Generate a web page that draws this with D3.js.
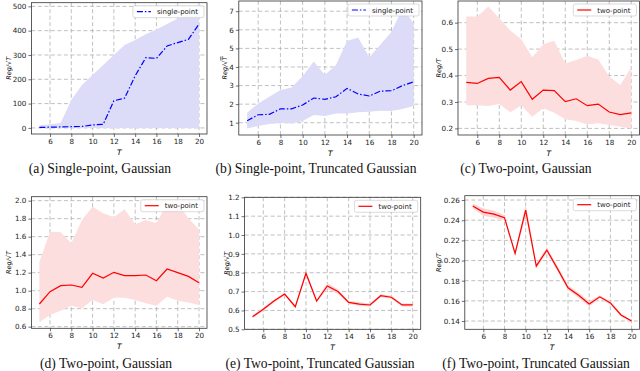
<!DOCTYPE html>
<html>
<head>
<meta charset="utf-8">
<script src="https://cdn.jsdelivr.net/npm/d3@7"></script>
<style>
  body { margin: 0; background: #fff; }
  svg { display: block; }
</style>
</head>
<body>
<script>
const T = [5, 6, 7, 8, 9, 10, 11, 12, 13, 14, 15, 16, 17, 18, 19, 20];
const xTicks = [6, 8, 10, 12, 14, 16, 18, 20];

// (a) single-point, Gaussian
const aMean  = [2, 3, 4, 5, 6, 12, 15, 112, 122, 214, 289, 286, 337, 351, 364, 427];
const aUpper = [10, 15, 20, 115, 177, 218, 259, 300, 341, 362, 385, 405, 427, 450, 470, 492];
const aLower = [0, 0, 0, 0, 0, 0, 0, 0, 0, 0, 0, 0, 0, 0, 0, 0];
const aTicks = [0, 100, 200, 300, 400, 500];

// (b) single-point, truncated Gaussian
const bMean  = [1.11, 1.43, 1.45, 1.75, 1.75, 1.95, 2.33, 2.26, 2.4, 2.85, 2.55, 2.44, 2.7, 2.72, 3.0, 3.2];
const bUpper = [1.54, 2.04, 2.4, 2.76, 2.9, 3.5, 4.29, 3.57, 4.1, 5.4, 5.58, 4.52, 5.19, 5.9, 7.16, 6.35];
const bLower = [0.69, 0.82, 0.93, 1.0, 0.96, 1.1, 1.41, 1.36, 1.5, 1.5, 1.56, 1.59, 1.65, 1.63, 1.74, 1.9];
const bTicks = [1, 2, 3, 4, 5, 6, 7];

// (c) two-point, Gaussian (Reg/T)
const cMean  = [0.374, 0.370, 0.389, 0.393, 0.345, 0.377, 0.310, 0.345, 0.343, 0.301, 0.312, 0.286, 0.292, 0.262, 0.252, 0.259];
const cUpper = [0.623, 0.623, 0.661, 0.617, 0.57, 0.537, 0.469, 0.518, 0.532, 0.446, 0.459, 0.475, 0.461, 0.396, 0.364, 0.43];
const cLower = [0.288, 0.288, 0.285, 0.292, 0.261, 0.288, 0.244, 0.276, 0.259, 0.235, 0.228, 0.215, 0.219, 0.213, 0.206, 0.2];
const cTicks = [0.2, 0.3, 0.4, 0.5, 0.6];

// (d) two-point, Gaussian (Reg/sqrt T)
const dMean  = [0.852, 0.989, 1.056, 1.063, 1.037, 1.193, 1.141, 1.204, 1.167, 1.167, 1.174, 1.111, 1.241, 1.2, 1.159, 1.089];
const dUpper = [1.32, 1.656, 1.648, 1.526, 1.785, 1.933, 1.859, 1.815, 1.904, 1.737, 1.785, 1.748, 1.97, 1.97, 1.804, 1.681];
const dLower = [0.648, 0.73, 0.778, 0.833, 0.804, 0.896, 0.848, 0.922, 0.922, 0.896, 0.859, 0.833, 0.933, 0.889, 0.87, 0.841];
const dTicks = [0.6, 0.8, 1.0, 1.2, 1.4, 1.6, 1.8, 2.0];

// (e) two-point, truncated Gaussian (Reg/sqrt T)
const eMean  = [0.567, 0.606, 0.65, 0.687, 0.62, 0.797, 0.65, 0.73, 0.70, 0.643, 0.634, 0.629, 0.678, 0.67, 0.629, 0.629];
const eUpper = [0.575, 0.614, 0.658, 0.694, 0.627, 0.812, 0.658, 0.745, 0.712, 0.652, 0.643, 0.637, 0.686, 0.678, 0.637, 0.637];
const eLower = [0.559, 0.598, 0.642, 0.68, 0.613, 0.782, 0.642, 0.715, 0.688, 0.634, 0.625, 0.621, 0.67, 0.662, 0.621, 0.621];
const eTicks = [0.5, 0.6, 0.7, 0.8, 0.9, 1.0, 1.1, 1.2];

// (f) two-point, truncated Gaussian (Reg/T)
const fMean  = [0.254, 0.248, 0.246, 0.2425, 0.207, 0.250, 0.1945, 0.2104, 0.192, 0.173, 0.1655, 0.157, 0.164, 0.158, 0.146, 0.140];
const fUpper = [0.2565, 0.2515, 0.2495, 0.245, 0.209, 0.2555, 0.197, 0.213, 0.1945, 0.1755, 0.168, 0.1595, 0.1655, 0.1595, 0.1475, 0.141];
const fLower = [0.2515, 0.2445, 0.2425, 0.240, 0.205, 0.2445, 0.192, 0.2078, 0.1895, 0.1705, 0.163, 0.1545, 0.1625, 0.1565, 0.1445, 0.139];
const fTicks = [0.14, 0.16, 0.18, 0.20, 0.22, 0.24, 0.26];

const panels = [
  {mean: aMean, upper: aUpper, lower: aLower, ticks: aTicks, fmt: d3.format("d"),
   ydom: [-25, 515], box: [31.4, 207, 2.7, 134], ylab: "sqrt", ylx: 6,
   series: "single-point", color: "blue", fill: "#dcdcf8", dash: "6,2,1.5,2",
   caption: "(a) Single-point, Gaussian", cx: 100, cy: 173},
  {mean: bMean, upper: bUpper, lower: bLower, ticks: bTicks, fmt: d3.format("d"),
   ydom: [0.34, 7.55], box: [238.8, 422, 1, 135], ylab: "sqrtbar", ylx: 222,
   series: "single-point", color: "blue", fill: "#dcdcf8", dash: "6,2,1.5,2",
   caption: "(b) Single-point, Truncated Gaussian", cx: 316, cy: 173},
  {mean: cMean, upper: cUpper, lower: cLower, ticks: cTicks, fmt: d3.format(".1f"),
   ydom: [0.175, 0.682], box: [458, 639.5, 1, 135], ylab: "plain", ylx: 436,
   series: "two-point", color: "red", fill: "#fddede", dash: null,
   caption: "(c) Two-point, Gaussian", cx: 526, cy: 173},
  {mean: dMean, upper: dUpper, lower: dLower, ticks: dTicks, fmt: d3.format(".1f"),
   ydom: [0.582, 2.044], box: [31.4, 207, 196.7, 328.3], ylab: "sqrt", ylx: 6,
   series: "two-point", color: "red", fill: "#fddede", dash: null,
   caption: "(d) Two-point, Gaussian", cx: 106, cy: 368},
  {mean: eMean, upper: eUpper, lower: eLower, ticks: eTicks, fmt: d3.format(".1f"),
   ydom: [0.5, 1.2], box: [244.6, 420.7, 197.3, 329.3], ylab: "sqrt", ylx: 224,
   series: "two-point", color: "red", fill: "#fcd4d4", dash: null,
   caption: "(e) Two-point, Truncated Gaussian", cx: 320, cy: 368},
  {mean: fMean, upper: fUpper, lower: fLower, ticks: fTicks, fmt: d3.format(".2f"),
   ydom: [0.1318, 0.2643], box: [464.8, 639.5, 195.7, 329.3], ylab: "plain", ylx: 436,
   series: "two-point", color: "red", fill: "#fcd4d4", dash: null,
   caption: "(f) Two-point, Truncated Gaussian", cx: 536, cy: 368},
];

const svg = d3.select("body").append("svg")
  .attr("width", 640)
  .attr("height", 371);

const tickFont = "DejaVu Sans, sans-serif";

panels.forEach((p, i) => {
  const [x0, x1, y0, y1] = p.box;
  const x = d3.scaleLinear().domain([4.25, 20.75]).range([x0, x1]);
  const y = d3.scaleLinear().domain(p.ydom).range([y1, y0]);
  const g = svg.append("g");

  // grid
  g.append("g").selectAll("line").data(xTicks).join("line")
    .attr("x1", d => x(d)).attr("x2", d => x(d))
    .attr("y1", y0).attr("y2", y1)
    .attr("stroke", "#b0b0b0").attr("stroke-width", 0.8)
    .attr("stroke-dasharray", "4,2.5");
  g.append("g").selectAll("line").data(p.ticks).join("line")
    .attr("x1", x0).attr("x2", x1)
    .attr("y1", d => y(d)).attr("y2", d => y(d))
    .attr("stroke", "#b0b0b0").attr("stroke-width", 0.8)
    .attr("stroke-dasharray", "4,2.5");

  const clipId = "clip" + i;
  svg.append("clipPath").attr("id", clipId)
    .append("rect").attr("x", x0).attr("y", y0)
    .attr("width", x1 - x0).attr("height", y1 - y0);

  const plot = g.append("g").attr("clip-path", `url(#${clipId})`);

  // band
  const area = d3.area()
    .x((d, j) => x(T[j]))
    .y0((d, j) => y(p.lower[j]))
    .y1((d, j) => y(p.upper[j]));
  plot.append("path")
    .datum(p.mean)
    .attr("fill", p.fill)
    .attr("d", area);

  // mean line
  const line = d3.line()
    .x((d, j) => x(T[j]))
    .y(d => y(d));
  plot.append("path")
    .datum(p.mean)
    .attr("fill", "none")
    .attr("stroke", p.color)
    .attr("stroke-width", 1.2)
    .attr("stroke-dasharray", p.dash)
    .attr("d", line);

  // axes
  const xAxis = g.append("g")
    .attr("transform", `translate(0,${y1})`)
    .call(d3.axisBottom(x).tickValues(xTicks).tickSize(3).tickPadding(2).tickSizeOuter(0));
  const yAxis = g.append("g")
    .attr("transform", `translate(${x0},0)`)
    .call(d3.axisLeft(y).tickValues(p.ticks).tickFormat(p.fmt).tickSize(3).tickPadding(2).tickSizeOuter(0));
  [xAxis, yAxis].forEach(a => {
    a.select(".domain").remove();
    a.selectAll("line").attr("stroke", "#333").attr("stroke-width", 0.7);
    a.selectAll("text").attr("font-family", tickFont).attr("font-size", 7.2).attr("fill", "#222");
  });

  // frame
  g.append("rect")
    .attr("x", x0).attr("y", y0)
    .attr("width", x1 - x0).attr("height", y1 - y0)
    .attr("fill", "none").attr("stroke", "#333").attr("stroke-width", 0.8);

  // x label
  g.append("text")
    .attr("x", (x0 + x1) / 2).attr("y", y1 + 21)
    .attr("text-anchor", "middle")
    .attr("font-family", tickFont).attr("font-size", 7.5)
    .attr("font-style", "italic")
    .text("T");

  // y label
  const yl = g.append("text")
    .attr("transform", `translate(${p.ylx},${(y0 + y1) / 2}) rotate(-90)`)
    .attr("text-anchor", "middle")
    .attr("dy", "0.7em")
    .attr("font-family", tickFont).attr("font-size", 6.5)
    .attr("font-style", "italic");
  if (p.ylab === "plain") {
    yl.text("Reg/T");
  } else {
    yl.append("tspan").text("Reg/\u221A");
    const t = yl.append("tspan").text("T");
    if (p.ylab === "sqrtbar") t.attr("text-decoration", "overline");
  }

  // legend
  const lg = g.append("g");
  const lt = lg.append("text")
    .attr("font-family", tickFont).attr("font-size", 7)
    .attr("fill", "#222")
    .text(p.series);
  const tw = lt.node().getComputedTextLength();
  const bw = tw + 30, bh = 12;
  const bx = x1 - 3 - bw, by = y0 + 3;
  lg.insert("rect", "text")
    .attr("x", bx).attr("y", by).attr("width", bw).attr("height", bh)
    .attr("rx", 2)
    .attr("fill", "#fff").attr("fill-opacity", 0.85)
    .attr("stroke", "#ccc").attr("stroke-width", 0.7);
  lg.append("line")
    .attr("x1", bx + 4).attr("x2", bx + 18)
    .attr("y1", by + bh / 2).attr("y2", by + bh / 2)
    .attr("stroke", p.color).attr("stroke-width", 1.2)
    .attr("stroke-dasharray", p.dash);
  lt.attr("x", bx + 24).attr("y", by + bh / 2 + 2.5);

  // caption
  svg.append("text")
    .attr("x", p.cx).attr("y", p.cy)
    .attr("text-anchor", "middle")
    .attr("font-family", "Liberation Serif, DejaVu Serif, serif")
    .attr("font-size", 13.6)
    .attr("fill", "#111")
    .text(p.caption);
});
</script>
</body>
</html>
